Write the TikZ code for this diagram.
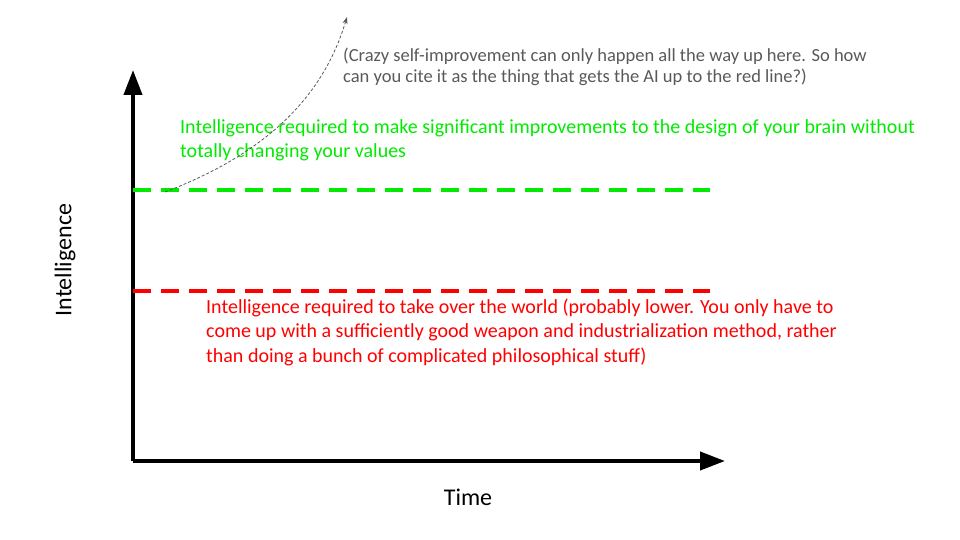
\documentclass[tikz,border=0pt]{standalone}
\usepackage{fontspec}
\setmainfont{Carlito}
\usetikzlibrary{arrows.meta}
\definecolor{brightgreen}{RGB}{0,235,0}
\definecolor{notegrey}{RGB}{89,89,89}

\begin{document}
\begin{tikzpicture}[x=1pt, y=-1pt, >=latex,
  axis/.style={line width=4pt, -{Triangle[length=25pt, width=18pt]}},
  level/.style={line width=4pt, dash pattern=on 18pt off 10pt},
  levelnote/.style={anchor=west, align=left, inner sep=0pt, font=\fontsize{20}{24.5}\selectfont},
  axislabel/.style={font=\fontsize{24}{28}\selectfont}]

\useasboundingbox (0, 0) rectangle (960, 540);

% Axes
\coordinate (origin) at (133, 461);
\coordinate (ytop) at (133, 70);
\coordinate (xend) at (725, 461);
\draw[axis] (origin) -- (ytop);
\draw[axis] (origin) -- (xend);

% Labels for axes
\node[axislabel, rotate=90] (ylabel) at (65, 260) {Intelligence};
\node[axislabel] (xlabel) at (468, 497) {Time};

% Threshold lines
\coordinate (greenstart) at (133, 190);
\coordinate (greenend) at (710, 190);
\coordinate (redstart) at (133, 291);
\coordinate (redend) at (710, 291);
\draw[level, brightgreen] (greenstart) -- (greenend);
\draw[level, red] (redstart) -- (redend);

% Threshold annotations
\node[levelnote, brightgreen] (greennote) at (180, 140.5) {Intelligence required to make significant improvements to the design of your brain without\\totally changing your values};
\node[levelnote, red] (rednote) at (206, 332) {Intelligence required to take over the world (probably lower. You only have to\\come up with a sufficiently good weapon and industrialization method, rather\\than doing a bunch of complicated philosophical stuff)};

% Self-improvement curve
\coordinate (curvestart) at (165, 192);
\coordinate (curveend) at (347, 17);
\draw[notegrey, line width=0.8pt, dash pattern=on 3pt off 2pt, -{Stealth[length=7pt, width=5pt]}]
  (curvestart) .. controls (275, 150) and (325, 90) .. (curveend);
\node[anchor=west, align=left, inner sep=0pt, notegrey, font=\fontsize{18.5}{21}\selectfont] (curvenote) at (343, 67) {(Crazy self-improvement can only happen all the way up here. So how\\can you cite it as the thing that gets the AI up to the red line?)};

\end{tikzpicture}
\end{document}
